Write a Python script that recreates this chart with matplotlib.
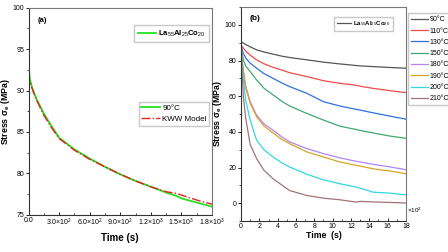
import matplotlib
matplotlib.use("Agg")
import matplotlib.pyplot as plt
from matplotlib.ticker import MultipleLocator, FixedLocator, FixedFormatter

plt.rcParams['font.family'] = ['Liberation Sans', 'DejaVu Sans']
plt.rcParams['mathtext.fontset'] = 'custom'
plt.rcParams['mathtext.rm'] = 'Liberation Sans'
plt.rcParams['mathtext.bf'] = 'Liberation Sans:bold'
plt.rcParams['mathtext.it'] = 'Liberation Sans:italic'

# panel (a): 90 C relaxation and KWW fit
t_a = [0, 10, 30, 50, 80, 150, 220, 300, 450, 600, 750, 900, 1050, 1200, 1350, 1450, 1500, 1650, 1800]
exp_90 = [93.0, 91.5, 90.5, 89.8, 88.9, 87.2, 85.8, 84.3, 82.9, 81.8, 80.8, 79.9, 79.1, 78.4, 77.7, 77.3, 77.0, 76.5, 76.0]
kww_90 = [92.2, 91.2, 90.4, 89.7, 88.8, 87.0, 85.6, 84.2, 82.8, 81.7, 80.8, 79.9, 79.1, 78.4, 77.8, 77.6, 77.4, 76.8, 76.3]

# panel (b): stress relaxation at several temperatures (time in 10^2 s)
temps = ['90°C', '110°C', '130°C', '150°C', '180°C', '190°C', '200°C', '210°C']
colors = ['#555555', '#ee4b4b', '#2f6fe0', '#3fa870', '#b585ee', '#d6a526', '#33d6e3', '#a07474']
t_b = [0, 0.1, 0.25, 0.5, 1, 1.7, 2.5, 3.5, 4.5, 5.3, 7.2, 9, 10.8, 12, 12.6, 13, 14.4, 16.3, 18]
s_b = [
    [90.7, 90.3, 89.8, 89.0, 87.7, 86.0, 84.8, 83.6, 82.4, 81.7, 80.4, 79.1, 78.1, 77.5, 77.2, 77.0, 76.6, 76.1, 75.7],
    [88.8, 88.0, 87.0, 85.3, 83.0, 80.4, 78.2, 76.2, 74.6, 73.2, 71.0, 68.7, 67.2, 66.5, 66.1, 65.6, 64.4, 63.1, 62.0],
    [88.3, 86.5, 84.1, 81.5, 78.5, 75.7, 72.7, 70.0, 67.3, 65.4, 61.6, 56.9, 54.5, 53.2, 52.6, 52.2, 50.7, 48.8, 47.1],
    [88.0, 84.5, 80.4, 77.0, 73.8, 69.1, 64.5, 60.7, 57.0, 54.5, 50.3, 46.6, 43.2, 41.9, 41.3, 40.8, 39.4, 37.6, 36.4],
    [87.0, 81.0, 74.7, 66.0, 56.9, 49.4, 44.5, 40.9, 37.0, 34.4, 30.6, 27.8, 25.4, 24.1, 23.5, 23.1, 21.8, 20.3, 18.8],
    [87.0, 80.5, 74.0, 65.0, 56.0, 48.5, 43.3, 39.4, 35.6, 33.4, 28.7, 25.9, 23.1, 21.8, 21.2, 20.8, 19.3, 18.0, 16.5],
    [86.4, 78.0, 70.0, 58.0, 46.6, 35.3, 30.0, 25.9, 22.5, 20.3, 16.2, 13.1, 10.9, 9.6, 9.0, 8.4, 6.2, 5.6, 4.7],
    [88.0, 75.0, 60.0, 48.0, 33.0, 25.0, 18.5, 13.7, 10.0, 7.1, 4.3, 2.8, 1.9, 1.0, 0.6, 1.0, 0.7, 0.4, 0.1],
]

fig = plt.figure(figsize=(4.48, 2.52), dpi=100)
ax1 = fig.add_axes([0.064, 0.147, 0.409, 0.823])
ax2 = fig.add_axes([0.538, 0.123, 0.368, 0.849])

lab_font = dict(fontsize=6.3, fontweight='bold')

# ---- panel (a)
l_exp, = ax1.plot(t_a, exp_90, color='#22e022', lw=1.3)
l_kww, = ax1.plot(t_a, kww_90, color='#e82020', lw=1.0, ls='-.')
ax1.set_xlim(0, 1800)
ax1.set_ylim(75, 100)
ax1.yaxis.set_major_locator(MultipleLocator(5))
ax1.yaxis.set_minor_locator(MultipleLocator(2.5))
ax1.xaxis.set_major_locator(FixedLocator([0, 300, 600, 900, 1200, 1500, 1800]))
ax1.xaxis.set_major_formatter(FixedFormatter(
    ['0.0', r'3.0$\times$10$^2$', r'6.0$\times$10$^2$', r'9.0$\times$10$^2$',
     r'1.2$\times$10$^3$', r'1.5$\times$10$^3$', r'1.8$\times$10$^3$']))
ax1.xaxis.set_minor_locator(MultipleLocator(150))
ax1.set_xlabel('Time (s)', labelpad=4, fontsize=7, fontweight='bold')
ax1.set_ylabel(r'Stress $\mathbf{\sigma_e}$ (MPa)', labelpad=0.3, **lab_font)
ax1.text(0.05, 0.955, '(a)', transform=ax1.transAxes, fontsize=5.5, fontweight='bold', va='top')
leg1 = ax1.legend([l_exp], [r'La$_{55}$Al$_{25}$Co$_{20}$'], loc='upper right',
                  bbox_to_anchor=(0.985, 0.915), fontsize=5.6, frameon=True, fancybox=False,
                  edgecolor='#bbbbbb', handlelength=2.3, borderpad=0.45, handletextpad=0.3,
                  borderaxespad=0)
for txt in leg1.get_texts():
    txt.set_fontweight('bold')
ax1.add_artist(leg1)
ax1.legend([l_exp, l_kww], ['90°C', 'KWW Model'], loc='upper right',
           bbox_to_anchor=(0.985, 0.545), fontsize=5.8, frameon=True, fancybox=False,
           edgecolor='#bbbbbb', handlelength=2.3, borderpad=0.3, labelspacing=0.45,
           handletextpad=0.3, borderaxespad=0)

# ---- panel (b)
lines = []
for vals, c in zip(s_b, colors):
    ln, = ax2.plot(t_b, vals, color=c, lw=0.9)
    lines.append(ln)
ax2.set_xlim(0, 18)
ax2.set_ylim(-10, 110)
ax2.xaxis.set_major_locator(MultipleLocator(2))
ax2.xaxis.set_minor_locator(MultipleLocator(1))
ax2.yaxis.set_major_locator(FixedLocator([0, 20, 40, 60, 80, 100]))
ax2.yaxis.set_minor_locator(MultipleLocator(10))
ax2.set_xlabel('Time  (s)', labelpad=1, **lab_font)
ax2.set_ylabel(r'Stress $\mathbf{\sigma_e}$ (MPa)', labelpad=0.5, **lab_font)
ax2.text(0.05, 0.965, '(b)', transform=ax2.transAxes, fontsize=6, fontweight='bold', va='top')
ax2.text(1.005, 0.03, r'$\times$10$^2$', transform=ax2.transAxes, fontsize=4.5, va='bottom')
leg2 = ax2.legend([lines[0]], [r'La$_{55}$Al$_{25}$Co$_{20}$'], loc='upper right',
                  bbox_to_anchor=(0.92, 0.955), fontsize=4.3, frameon=True, fancybox=False,
                  edgecolor='#bbbbbb', handlelength=2.4, borderpad=0.45, handletextpad=0.3,
                  borderaxespad=0)
for txt in leg2.get_texts():
    txt.set_fontweight('bold')
ax2.add_artist(leg2)
ax2.legend(lines, temps, loc='upper left', bbox_to_anchor=(1.015, 0.97), fontsize=5,
           frameon=True, fancybox=False, edgecolor='#bbbbbb', handlelength=2.4,
           borderpad=0.4, labelspacing=0.62, handletextpad=0.2, borderaxespad=0)

for ax in (ax1, ax2):
    ax.tick_params(axis='both', which='major', labelsize=5, pad=1.2)
    ax.tick_params(axis='x', which='both', direction='in', top=False)
    ax.tick_params(axis='y', which='both', direction='out', right=False)
    ax.tick_params(which='major', length=2, width=0.6)
    ax.tick_params(which='minor', length=1.3, width=0.5)
    for sp in ax.spines.values():
        sp.set_linewidth(0.8)
        sp.set_color('#333333')
    ax.spines['top'].set_color('#777777')
    ax.spines['right'].set_color('#777777')

fig.savefig('out.png', dpi=100)
